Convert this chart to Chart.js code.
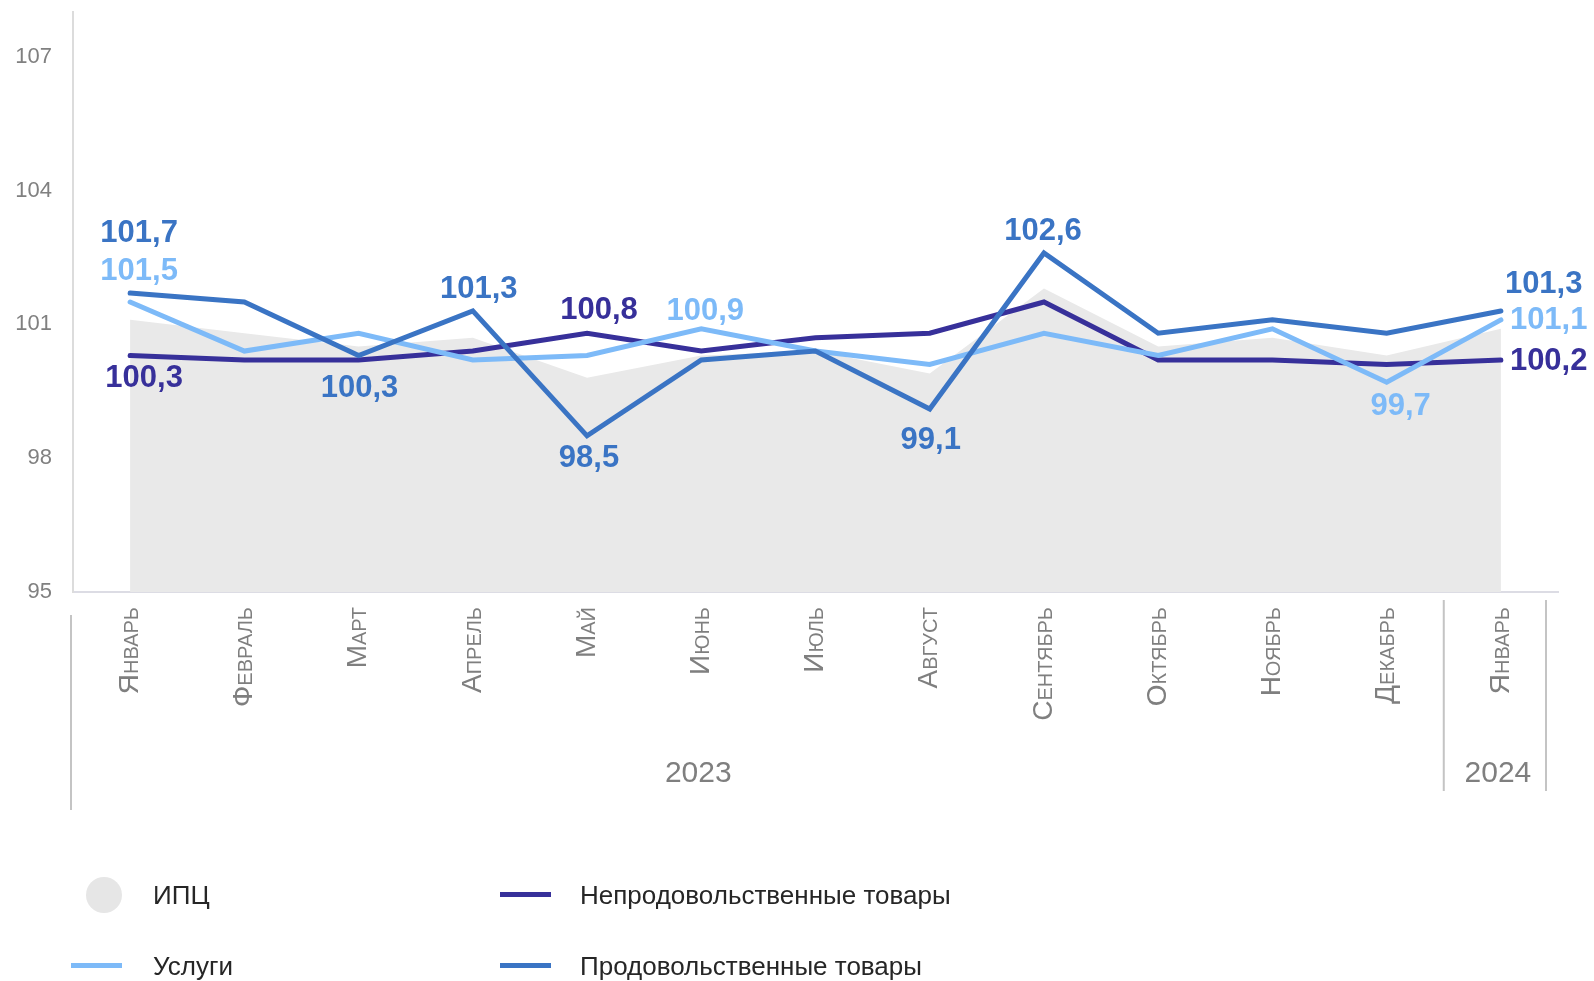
<!DOCTYPE html>
<html>
<head>
<meta charset="utf-8">
<script src="https://cdn.jsdelivr.net/npm/chart.js@4.4.1/dist/chart.umd.min.js"></script>
<style>
html,body{margin:0;padding:0;background:#fff;}
#wrap{position:relative;width:1594px;height:981px;overflow:hidden;font-family:'Liberation Sans',Arial,sans-serif;}
#c{position:absolute;left:0;top:0;}
.lgt{position:absolute;font-size:26px;color:#262626;line-height:30px;white-space:nowrap;}
.sw{position:absolute;}
</style>
</head>
<body>
<div id="wrap">
  <canvas id="c" width="1594" height="981"></canvas>
</div>
<script>
// ---- data ----
const months = ['Январь','Февраль','Март','Апрель','Май','Июнь','Июль','Август','Сентябрь','Октябрь','Ноябрь','Декабрь','Январь'];
const years = ['2023','2024'];
const yearSpans = [12, 1];
const yTicks = [95, 98, 101, 104, 107];
const seriesNames = ['ИПЦ','Непродовольственные товары','Услуги','Продовольственные товары'];
const cpi      = [101.1, 100.8, 100.5, 100.7, 99.8, 100.3, 100.4, 99.9, 101.8, 100.5, 100.7, 100.3, 100.9];
const nonFood  = [100.3, 100.2, 100.2, 100.4, 100.8, 100.4, 100.7, 100.8, 101.5, 100.2, 100.2, 100.1, 100.2];
const services = [101.5, 100.4, 100.8, 100.2, 100.3, 100.9, 100.4, 100.1, 100.8, 100.3, 100.9, 99.7, 101.1];
const food     = [101.7, 101.5, 100.3, 101.3, 98.5, 100.2, 100.4, 99.1, 102.6, 100.8, 101.1, 100.8, 101.3];

// ---- styles ----
const FAM = "'Liberation Sans', Arial, sans-serif";
const colors = ['#e9e9e9', '#37309a', '#7dbaf8', '#3a74c4'];

// value label placement (relative to the point)
const labelSpecs = [
  {s:3, i:0,  dx:9,  dy:-60},
  {s:2, i:0,  dx:9,  dy:-31},
  {s:1, i:0,  dx:14, dy:23},
  {s:3, i:2,  dx:1,  dy:33},
  {s:3, i:3,  dx:6,  dy:-21},
  {s:1, i:4,  dx:12, dy:-23},
  {s:3, i:4,  dx:2,  dy:23},
  {s:2, i:5,  dx:4,  dy:-17},
  {s:3, i:7,  dx:1,  dy:31},
  {s:3, i:8,  dx:-1, dy:-21},
  {s:2, i:11, dx:14, dy:24},
  {s:3, i:12, dx:4,  dy:-26, align:'left'},
  {s:2, i:12, dx:9,  dy:1,   align:'left'},
  {s:1, i:12, dx:9,  dy:1,   align:'left'}
];

const valueLabels = {
  id: 'valueLabels',
  afterDatasetsDraw(chart) {
    const ctx = chart.ctx;
    ctx.save();
    ctx.font = 'bold 31px ' + FAM;
    ctx.textBaseline = 'middle';
    labelSpecs.forEach(sp => {
      const ds = chart.data.datasets[sp.s];
      const pt = chart.getDatasetMeta(sp.s).data[sp.i];
      const v = ds.data[sp.i];
      ctx.fillStyle = ds.borderColor;
      ctx.textAlign = sp.align || 'center';
      ctx.fillText(v.toFixed(1).replace('.', ','), pt.x + sp.dx, pt.y + sp.dy);
    });
    ctx.restore();
  }
};

const groupAxis = {
  id: 'groupAxis',
  afterDraw(chart) {
    const x = chart.scales.x, ctx = chart.ctx, b = chart.chartArea.bottom;
    const half = (x.getPixelForTick(1) - x.getPixelForTick(0)) / 2;
    ctx.save();
    ctx.strokeStyle = '#c4c4c4';
    ctx.lineWidth = 2;
    ctx.fillStyle = '#7f7f7f';
    ctx.font = '30px ' + FAM;
    ctx.textAlign = 'center';
    ctx.textBaseline = 'alphabetic';
    let start = 0;
    yearSpans.forEach((n, gi) => {
      const left = x.getPixelForTick(start) - half;
      const right = x.getPixelForTick(start + n - 1) + half;
      ctx.beginPath();
      if (gi === 0) {
        ctx.moveTo(left - 2, b + 23); ctx.lineTo(left - 2, b + 218);
      } else {
        ctx.moveTo(left, b + 8); ctx.lineTo(left, b + 199);
      }
      if (gi === yearSpans.length - 1) {
        ctx.moveTo(right - 12, b + 8); ctx.lineTo(right - 12, b + 199);
      }
      ctx.stroke();
      const cx = x.getPixelForTick(start + Math.floor((n - 1) / 2));
      ctx.fillText(years[gi], cx - 3, b + 190);
      start += n;
    });
    ctx.restore();
  }
};

const chart = new Chart(document.getElementById('c'), {
  type: 'line',
  data: {
    labels: months,
    datasets: [
      {label: seriesNames[0], data: cpi, fill: 'start', backgroundColor: colors[0], borderColor: 'rgba(0,0,0,0)', borderWidth: 0, pointRadius: 0, order: 4},
      {label: seriesNames[1], data: nonFood, fill: false, borderColor: colors[1], backgroundColor: colors[1], borderWidth: 5, pointRadius: 0, order: 3},
      {label: seriesNames[2], data: services, fill: false, borderColor: colors[2], backgroundColor: colors[2], borderWidth: 5, pointRadius: 0, order: 2},
      {label: seriesNames[3], data: food, fill: false, borderColor: colors[3], backgroundColor: colors[3], borderWidth: 5, pointRadius: 0, order: 1}
    ]
  },
  options: {
    responsive: false,
    animation: false,
    devicePixelRatio: 1,
    layout: {padding: {top: 12, right: 36, bottom: 0, left: 0}},
    elements: {line: {tension: 0, borderCapStyle: 'round'}},
    plugins: {legend: {display: false}, tooltip: {enabled: false}},
    scales: {
      x: {
        offset: true,
        afterFit: s => { s.height = 389; s.paddingLeft = 0; s.paddingRight = 0; s.paddingTop = 0; s.paddingBottom = 0; },
        grid: {display: true, drawOnChartArea: false, drawTicks: false},
        border: {display: true, color: '#dcdce4', width: 2},
        ticks: {autoSkip: false, minRotation: 90, maxRotation: 90, padding: 15, color: '#7f7f7f',
                font: {size: 28, family: FAM, weight: 'small-caps'}}
      },
      y: {
        min: 95, max: 108,
        afterBuildTicks: s => { s.ticks = yTicks.map(v => ({value: v})); },
        afterFit: s => { s.width = 73; s.paddingTop = 0; s.paddingBottom = 0; s.paddingLeft = 0; s.paddingRight = 0; },
        grid: {display: true, drawOnChartArea: false, drawTicks: false},
        border: {display: true, color: '#dcdcdc', width: 2},
        ticks: {padding: 21, color: '#808080', font: {size: 22, family: FAM}}
      }
    }
  },
  plugins: [valueLabels, groupAxis]
});

// ---- HTML legend built from the datasets ----
const legendSlots = [
  {swX: 86,  textX: 153, y: 895, kind: 'circle'},
  {swX: 500, textX: 580, y: 895},
  {swX: 71,  textX: 153, y: 966},
  {swX: 500, textX: 580, y: 966}
];
const wrap = document.getElementById('wrap');
chart.data.datasets.forEach((ds, k) => {
  const sl = legendSlots[k];
  const sw = document.createElement('div');
  sw.className = 'sw';
  if (sl.kind === 'circle') {
    Object.assign(sw.style, {left: sl.swX + 'px', top: (sl.y - 18) + 'px', width: '36px', height: '36px', borderRadius: '50%', background: '#e6e6e6'});
  } else {
    Object.assign(sw.style, {left: sl.swX + 'px', top: (sl.y - 3) + 'px', width: '51px', height: '5px', background: ds.borderColor});
  }
  wrap.appendChild(sw);
  const t = document.createElement('div');
  t.className = 'lgt';
  t.textContent = ds.label;
  Object.assign(t.style, {left: sl.textX + 'px', top: (sl.y - 15) + 'px'});
  wrap.appendChild(t);
});
</script>
</body>
</html>
